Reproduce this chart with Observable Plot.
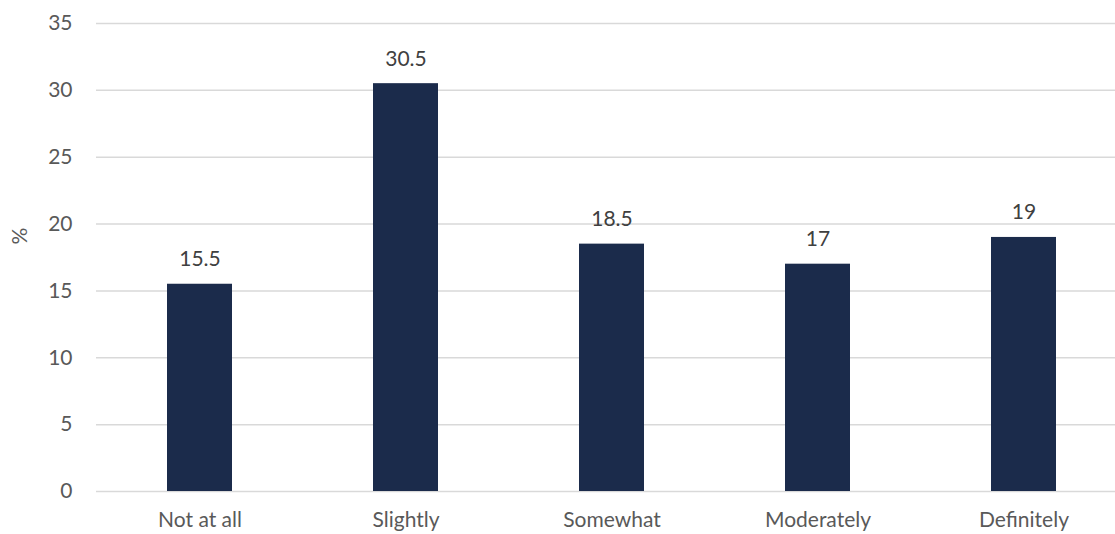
<!DOCTYPE html>
<html>
<head>
<meta charset="utf-8">
<script src="https://cdn.jsdelivr.net/npm/d3@7"></script>
<script src="https://cdn.jsdelivr.net/npm/@observablehq/plot@0.6"></script>
<style>
  html, body { margin: 0; padding: 0; background: #fff; }
  #chart { width: 1115px; height: 534px; overflow: hidden; }
</style>
</head>
<body>
<div id="chart"></div>
<script>
const categories = ["Not at all", "Slightly", "Somewhat", "Moderately", "Definitely"];
const values = [15.5, 30.5, 18.5, 17, 19];
const yTicks = [0, 5, 10, 15, 20, 25, 30, 35];

const data = categories.map((c, i) => ({category: c, value: values[i]}));
const font = "Lato, 'Open Sans', sans-serif";

const chart = Plot.plot({
  width: 1115,
  height: 534,
  marginTop: 23,
  marginBottom: 43,
  marginLeft: 96,
  marginRight: 0,
  style: {fontFamily: font, fontSize: "21px", color: "#595959", background: "#fff"},
  x: {domain: categories, range: [96, 1127], paddingInner: 0.685, paddingOuter: 0.3425, label: null},
  y: {domain: [0, 35], label: null},
  marks: [
    Plot.ruleY(yTicks, {stroke: "#d9d9d9", strokeWidth: 1.5}),
    Plot.barY(data, {x: "category", y: "value", fill: "#1b2b4b"}),
    Plot.text(data, {x: "category", y: "value", text: d => String(d.value), dy: -18, lineAnchor: "bottom", fill: "#404040", fontSize: 21}),
    Plot.axisY({ticks: yTicks, tickSize: 0, tickPadding: 24, fill: "#595959", fontSize: 21, label: null}),
    Plot.axisX({tickSize: 0, tickPadding: 21, fill: "#595959", fontSize: 21, label: null}),
    Plot.text(["%"], {frameAnchor: "left", x: null, y: null, dx: -76, dy: -13, rotate: -90, fill: "#595959", fontSize: 21})
  ]
});
document.getElementById("chart").appendChild(chart);
</script>
</body>
</html>
